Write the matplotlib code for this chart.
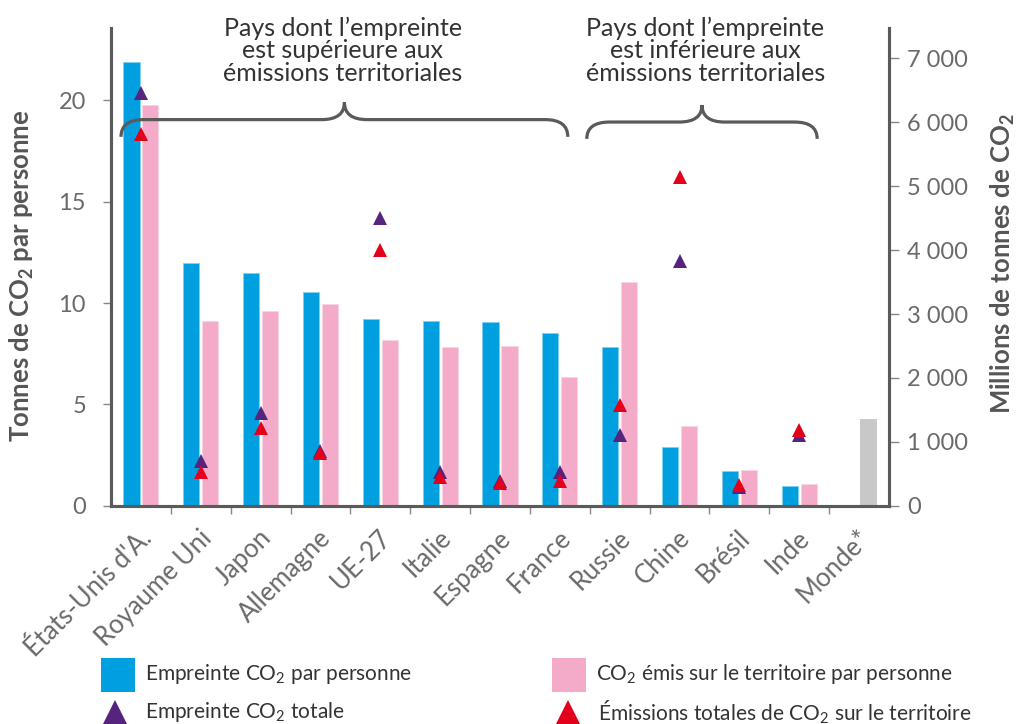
import matplotlib
matplotlib.use("Agg")
import matplotlib.pyplot as plt
from matplotlib.path import Path
from matplotlib.patches import PathPatch, Rectangle
from matplotlib.lines import Line2D
import matplotlib.transforms as mtransforms
import numpy as np

plt.rcParams['font.family'] = ['Lato', 'DejaVu Sans']

categories = ["États-Unis d'A.", "Royaume Uni", "Japon", "Allemagne", "UE-27", "Italie",
              "Espagne", "France", "Russie", "Chine", "Brésil", "Inde", "Monde*"]
empreinte_pp = [21.9, 11.96, 11.47, 10.56, 9.2, 9.13, 9.08, 8.54, 7.85, 2.91, 1.71, 0.97, None]
territoire_pp = [19.77, 9.13, 9.62, 9.95, 8.17, 7.85, 7.88, 6.36, 11.04, 3.93, 1.76, 1.05, None]
monde_pp = 4.26
empreinte_tot = [6451, 700, 1451, 856, 4497, 535, 394, 520, 1114, 3834, 290, 1106, None]
territoire_tot = [5814, 527, 1216, 825, 4001, 454, 350, 385, 1576, 5149, 324, 1185, None]

left_ticks = [0, 5, 10, 15, 20]
right_ticks = [0, 1000, 2000, 3000, 4000, 5000, 6000, 7000]
right_tick_labels = ["0", "1 000", "2 000", "3 000", "4 000", "5 000", "6 000", "7 000"]

BLUE = "#009fe0"
PINK = "#f3abc9"
GREY = "#c8c8c8"
PURPLE = "#56237f"
RED = "#e2001a"
AX = "#5a5a5a"
TICKTXT = "#6a6a6a"
LBL = "#555555"
DARK = "#333333"

W, H = 1016, 724
fig = plt.figure(figsize=(W / 100, H / 100), dpi=100)
ax = fig.add_axes([111 / W, 1 - 505.7 / H, (889 - 111) / W, (505.7 - 28) / H])
ax2 = ax.twinx()

n = len(categories)
x = np.arange(n)
bw = 0.27
off = 0.158

for i in range(n):
    if empreinte_pp[i] is not None:
        ax.bar(x[i] - off, empreinte_pp[i], width=bw, color=BLUE, edgecolor="#7fd0f0", linewidth=0.6)
    if territoire_pp[i] is not None:
        ax.bar(x[i] + off, territoire_pp[i], width=bw, color=PINK, edgecolor="#f9d3e3", linewidth=0.6)
ax.bar(x[-1] + off, monde_pp, width=bw, color=GREY)

xe = [x[i] for i in range(n) if empreinte_tot[i] is not None]
ye = [v for v in empreinte_tot if v is not None]
xt = [x[i] for i in range(n) if territoire_tot[i] is not None]
yt = [v for v in territoire_tot if v is not None]
ax2.plot(xe, ye, linestyle="none", marker="^", markersize=10, color=PURPLE, markeredgewidth=0, zorder=3)
ax2.plot(xt, yt, linestyle="none", marker="^", markersize=10, color=RED, markeredgewidth=0, zorder=4)

ax.set_xlim(-0.5, n - 0.5)
ax.set_ylim(0, 23.57)
ax2.set_ylim(0, 7476)

for a in (ax, ax2):
    a.spines['top'].set_visible(False)
    for s in ('left', 'right', 'bottom'):
        a.spines[s].set_color(AX)
        a.spines[s].set_linewidth(2.2)

ax.set_yticks(left_ticks)
ax.set_yticklabels([str(t) for t in left_ticks])
ax.tick_params(axis='y', direction='out', length=6, width=1, color="#888888",
               labelsize=17, labelcolor=TICKTXT, pad=12)

ax2.set_yticks(right_ticks)
ax2.set_yticklabels(right_tick_labels)
ax2.tick_params(axis='y', direction='out', length=7, width=1, color="#888888",
                labelsize=17, labelcolor=TICKTXT, pad=6)

ax.set_xticks(x)
ax.set_xticklabels(categories, rotation=45, ha='right', rotation_mode='anchor')
ax.set_xticks(np.arange(0.5, n - 1, 1), minor=True)
ax.tick_params(axis='x', which='major', length=0, labelsize=18.5, labelcolor=TICKTXT, pad=14)
ax.tick_params(axis='x', which='minor', length=6, width=1, color="#888888")
shift = mtransforms.ScaledTranslation(-2 / 100, 0, fig.dpi_scale_trans)
for lab in ax.get_xticklabels():
    lab.set_transform(lab.get_transform() + shift)

fig.text(22 / W, 1 - 276 / H, "Tonnes de CO$_\\mathregular{2}$ par personne", rotation=90,
         ha='center', va='center', fontsize=18.5, fontweight='bold', color=LBL)
fig.text(1003 / W, 1 - 264 / H, "Millions de tonnes de CO$_\\mathregular{2}$", rotation=90,
         ha='center', va='center', fontsize=18.5, fontweight='bold', color=LBL)

# braces
def brace(x0, x1, ytip, yh, ypk, rx):
    xm = (x0 + x1) / 2
    verts = [(x0, ytip), (x0, yh), (x0 + rx, yh), (xm - rx, yh), (xm, yh), (xm, ypk),
             (xm, yh), (xm + rx, yh), (x1 - rx, yh), (x1, yh), (x1, ytip)]
    codes = [Path.MOVETO, Path.CURVE3, Path.CURVE3, Path.LINETO, Path.CURVE3, Path.CURVE3,
             Path.CURVE3, Path.CURVE3, Path.LINETO, Path.CURVE3, Path.CURVE3]
    p = PathPatch(Path(verts, codes), facecolor='none', edgecolor="#5a5a5a", linewidth=2.3,
                  capstyle='butt', clip_on=False, zorder=5)
    ax.add_patch(p)

brace(-0.333, 7.133, 18.2, 19.05, 19.9, 0.38)
brace(7.45, 11.3, 18.1, 18.93, 19.77, 0.38)

ax.text(3.37, 22.45, "Pays dont l’empreinte\nest supérieure aux\némissions territoriales",
        ha='center', va='center', fontsize=18, color=DARK,
        linespacing=0.98, clip_on=False)
ax.text(9.43, 22.45, "Pays dont l’empreinte\nest inférieure aux\némissions territoriales",
        ha='center', va='center', fontsize=18, color=DARK,
        linespacing=0.98, clip_on=False)

# legend (drawn in figure pixel coordinates)
pix = mtransforms.Affine2D().scale(1 / W, -1 / H).translate(0, 1) + fig.transFigure
legend_rows = [
    ("square", BLUE, 101, 675, "Empreinte CO$_\\mathregular{2}$ par personne"),
    ("tri", PURPLE, 115, 713, "Empreinte CO$_\\mathregular{2}$ totale"),
    ("square", PINK, 552, 675, "CO$_\\mathregular{2}$ émis sur le territoire par personne"),
    ("tri", RED, 568, 713, "Émissions totales de CO$_\\mathregular{2}$ sur le territoire"),
]
for kind, col, px, py, label in legend_rows:
    if kind == "square":
        fig.patches.append(Rectangle((px, py - 17), 34, 34, transform=pix, facecolor=col,
                                     edgecolor='none'))
        tx = px + 44
    else:
        fig.lines.append(Line2D([px], [py], transform=pix, marker='^', markersize=19,
                                color=col, markeredgewidth=0, linestyle='none'))
        tx = px - 14 + 44
    fig.text(tx / W, 1 - (py - 1) / H, label, ha='left', va='center', fontsize=15, color=DARK)

fig.savefig("out.png", dpi=100)
